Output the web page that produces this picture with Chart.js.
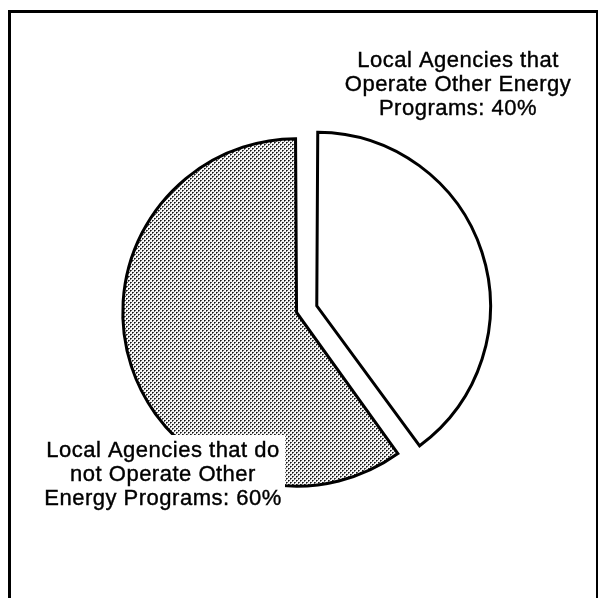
<!DOCTYPE html>
<html>
<head>
<meta charset="utf-8">
<script src="https://cdn.jsdelivr.net/npm/chart.js@4.4.0/dist/chart.umd.min.js"></script>
<style>
  html, body { margin: 0; padding: 0; background: #fff; overflow: hidden; }
  #wrap { position: relative; width: 599px; height: 598px; }
  #frame { position: absolute; left: 8px; top: 10px; width: 590px; height: 700px; box-sizing: border-box;
           border-left: 3px solid #000; border-top: 3px solid #000; border-right: 2px solid #000; }
  canvas { position: absolute; left: 0; top: 0; }
</style>
</head>
<body>
<div id="wrap">
  <div id="frame"></div>
  <canvas id="pieChart" width="599" height="598"></canvas>
</div>
<script>
// datos del gráfico
const categories = [
    'Local Agencies that Operate Other Energy Programs',
    'Local Agencies that do not Operate Other Energy Programs'
];
const shares = [40, 60];
const labelLines = [
    ['Local Agencies that', 'Operate Other Energy', 'Programs: 40%'],
    ['Local Agencies that do', 'not Operate Other', 'Energy Programs: 60%']
];

const canvas = document.getElementById('pieChart');

// trama punteada gris para la porción del 60%
function stipple() {
    const c = document.createElement('canvas');
    c.width = 4;
    c.height = 4;
    const g = c.getContext('2d');
    g.fillStyle = '#fff';
    g.fillRect(0, 0, 4, 4);
    g.fillStyle = '#000';
    g.fillRect(0, 0, 1, 1);
    g.fillRect(2, 2, 1, 1);
    g.fillStyle = '#555';
    g.fillRect(1, 0, 1, 1);
    g.fillRect(0, 1, 1, 1);
    g.fillRect(3, 2, 1, 1);
    g.fillRect(2, 3, 1, 1);
    return canvas.getContext('2d').createPattern(c, 'repeat');
}

// etiquetas de texto junto a cada porción
const labelPlugin = {
    id: 'sliceLabels',
    afterDatasetsDraw(chart) {
        const ctx = chart.ctx;
        ctx.save();
        ctx.fillStyle = '#fff';
        ctx.fillRect(40, 435, 245, 78);
        ctx.fillStyle = '#000';
        ctx.strokeStyle = '#000';
        ctx.lineWidth = 0.4;
        ctx.font = '22px "Liberation Sans", Arial, sans-serif';
        ctx.textAlign = 'center';
        ctx.textBaseline = 'alphabetic';
        if ('letterSpacing' in ctx) ctx.letterSpacing = '0.5px';
        labelLines[0].forEach((t, i) => {
            ctx.fillText(t, 458, 67 + i * 24);
            ctx.strokeText(t, 458, 67 + i * 24);
        });
        labelLines[1].forEach((t, i) => {
            ctx.fillText(t, 163, 457 + i * 24);
            ctx.strokeText(t, 163, 457 + i * 24);
        });
        ctx.restore();
    }
};

const pieChart = new Chart(canvas, {
    type: 'pie',
    data: {
        labels: categories,
        datasets: [{
            data: shares,
            backgroundColor: ['#fff', stipple()],
            borderColor: '#000',
            borderWidth: 3,
            borderAlign: 'center',
            borderJoinStyle: 'miter',
            offset: [60, 25]
        }]
    },
    options: {
        responsive: false,
        animation: false,
        events: [],
        radius: 167.5,
        layout: { padding: { left: 6, top: 23, right: 0, bottom: 0 } },
        plugins: {
            legend: { display: false },
            tooltip: { enabled: false }
        }
    },
    plugins: [labelPlugin]
});
</script>
</body>
</html>
